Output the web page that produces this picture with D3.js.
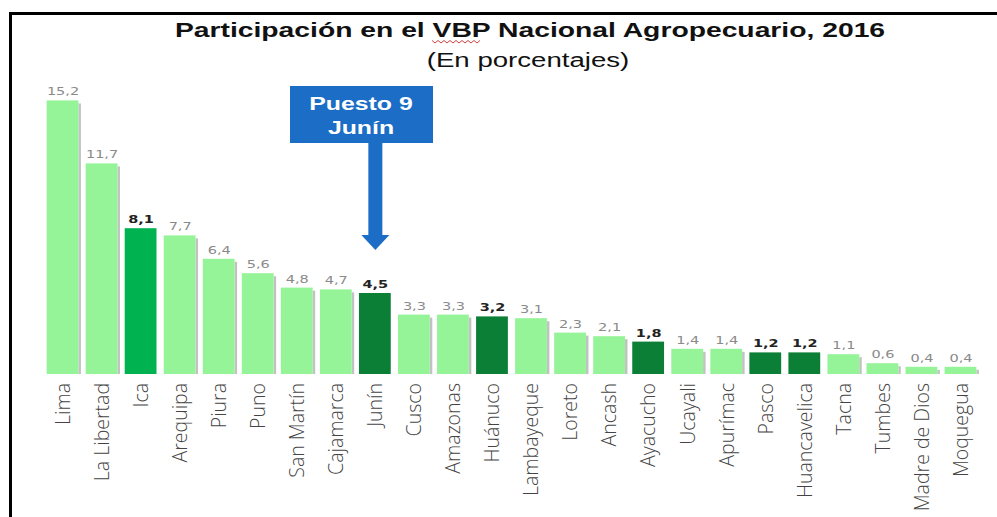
<!DOCTYPE html>
<html><head><meta charset="utf-8">
<script src="https://cdn.jsdelivr.net/npm/d3@7"></script>
<style>body{margin:0;background:#fff}svg{display:block}</style>
</head><body>
<script>
const categories = ["Lima","La Libertad","Ica","Arequipa","Piura","Puno","San Martín","Cajamarca","Junín","Cusco","Amazonas","Huánuco","Lambayeque","Loreto","Ancash","Ayacucho","Ucayali","Apurímac","Pasco","Huancavelica","Tacna","Tumbes","Madre de Dios","Moquegua"];
const values = [15.2,11.7,8.1,7.7,6.4,5.6,4.8,4.7,4.5,3.3,3.3,3.2,3.1,2.3,2.1,1.8,1.4,1.4,1.2,1.2,1.1,0.6,0.4,0.4];
const highlighted = ["Ica","Junín","Huánuco","Ayacucho","Pasco","Huancavelica"];
const valueLabels = ["15,2","11,7","8,1","7,7","6,4","5,6","4,8","4,7","4,5","3,3","3,3","3,2","3,1","2,3","2,1","1,8","1,4","1,4","1,2","1,2","1,1","0,6","0,4","0,4"];
const titleText = "Participación en el VBP Nacional Agropecuario, 2016";
const subtitleText = "(En porcentajes)";
const calloutLines = ["Puesto 9","Junín"];
const calloutTarget = "Junín";

const W = 997, H = 517;
const SX = 1.38; // horizontal stretch of the original picture
const svg = d3.select("body").append("svg").attr("width", W).attr("height", H);

// frame
svg.append("line").attr("x1",9).attr("x2",W).attr("y1",13.5).attr("y2",13.5).attr("stroke","#000").attr("stroke-width",3);
svg.append("line").attr("x1",10.5).attr("x2",10.5).attr("y1",12).attr("y2",H).attr("stroke","#000").attr("stroke-width",3);

const x = d3.scaleBand().domain(categories).range([43.5, 980.5]).paddingInner(0.16).paddingOuter(0.08);
const y = d3.scaleLinear().domain([0, 16]).range([374, 86]);

const colorOf = (c) => {
  if (c === "Ica") return "#00B250";
  if (highlighted.includes(c)) return "#0B7F35";
  return "#95F398";
};

const g = svg.append("g");
const data = categories.map((c,i)=>({c, v: values[i], lab: valueLabels[i]}));

// shadow
g.selectAll("rect.sh").data(data).join("rect").attr("class","sh")
  .attr("x", d => x(d.c) + x.bandwidth() - 1)
  .attr("y", d => y(d.v) + 3)
  .attr("width", 2.5)
  .attr("height", d => y(0) - y(d.v) - 3)
  .attr("fill", "#9a9a9a").attr("opacity", d => highlighted.includes(d.c) ? 0 : 0.6);

g.selectAll("rect.bar").data(data).join("rect").attr("class","bar")
  .attr("x", d => x(d.c))
  .attr("y", d => y(d.v))
  .attr("width", x.bandwidth() - 1)
  .attr("height", d => y(0) - y(d.v))
  .attr("fill", d => colorOf(d.c));

g.selectAll("text.val").data(data).join("text").attr("class","val")
  .attr("transform", d => `translate(${x(d.c) + x.bandwidth()/2},${y(d.v) - 5}) scale(${SX},1)`)
  .attr("text-anchor","middle")
  .attr("font-family","'DejaVu Sans', sans-serif")
  .attr("font-size", 10.5)
  .attr("font-weight", d => highlighted.includes(d.c) ? "bold" : "normal")
  .attr("fill", d => highlighted.includes(d.c) ? "#222" : "#8a8a8a")
  .text(d => d.lab);

// category axis labels
const xAxis = d3.axisBottom(x).tickSize(0).tickPadding(0);
const ax = svg.append("g").attr("transform", `translate(0,${y(0)})`).call(xAxis);
ax.select(".domain").remove();
ax.selectAll("text")
  .attr("transform","rotate(-90)")
  .attr("x", -9).attr("y", 0).attr("dy","0.35em")
  .attr("text-anchor","end")
  .attr("font-family","'Open Sans', 'Noto Sans', sans-serif")
  .attr("font-weight", 300)
  .attr("font-size", 19.5)
  .attr("fill","#444");

// title
svg.append("text").attr("transform", `translate(530,37) scale(${SX},1)`).attr("text-anchor","middle")
  .attr("font-family","'Liberation Sans', Arial, sans-serif").attr("font-weight","bold")
  .attr("font-size", 20.5).attr("fill","#111").text(titleText);
svg.append("text").attr("transform", `translate(528,67) scale(${SX},1)`).attr("text-anchor","middle")
  .attr("font-family","'Liberation Sans', Arial, sans-serif")
  .attr("font-size", 20).attr("fill","#111").text(subtitleText);
// spell-check squiggle under VBP
const sq = d3.path();
sq.moveTo(432, 40.5);
for (let i = 0; i < 16; i++) { sq.lineTo(435 + i*3, i%2 ? 40.5 : 43); }
svg.append("path").attr("d", sq.toString()).attr("fill","none").attr("stroke","#d04040").attr("stroke-width",1);

// callout
const cx = x(calloutTarget) + x.bandwidth()/2;
const blue = "#1C6DC6";
svg.append("rect").attr("x", 290).attr("y", 86).attr("width", 143).attr("height", 57).attr("fill", blue);
svg.append("rect").attr("x", cx - 7).attr("y", 143).attr("width", 14).attr("height", 93).attr("fill", blue);
svg.append("path").attr("d", `M${cx-14},235 L${cx+14},235 L${cx},250 Z`).attr("fill", blue);
calloutLines.forEach((t,i) => {
  svg.append("text").attr("transform", `translate(361,${110 + i*24}) scale(${SX},1)`).attr("text-anchor","middle")
    .attr("font-family","'Liberation Sans', Arial, sans-serif").attr("font-weight","bold")
    .attr("font-size", 18).attr("fill","#fff").text(t);
});
</script>
</body></html>
